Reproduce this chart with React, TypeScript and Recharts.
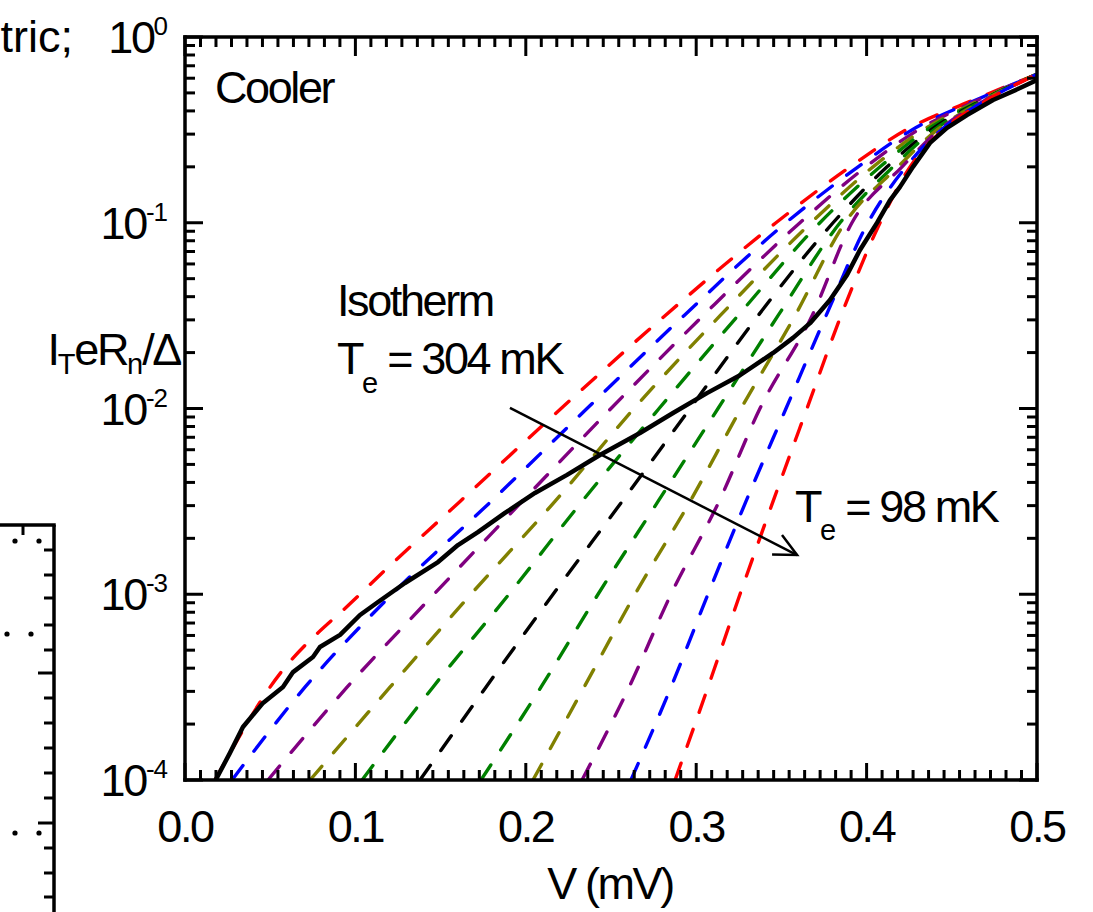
import React from "react";
import { LineChart, Line, XAxis, YAxis, ReferenceLine } from "recharts";

// current levels (I_T e R_n / Δ) shared by the dashed theory curves
const LEVELS = [1e-4, 3.16e-4, 1e-3, 3.16e-3, 1e-2, 3.16e-2, 0.1, 0.2, 0.316, 0.45, 0.63];

// voltage (mV) at which each dashed curve reaches the levels above
const V_RED_A = [0.0176, 0.0499, 0.1027, 0.1614, 0.2207, 0.2817, 0.3468, 0.3903, 0.4231, 0.4607, 0.5];
const V_BLUE_A = [0.0276, 0.0704, 0.1215, 0.1796, 0.2359, 0.2928, 0.3527, 0.395, 0.4266, 0.4624, 0.5];
const V_PURPLE_A = [0.0487, 0.0951, 0.1461, 0.1978, 0.25, 0.304, 0.3609, 0.3996, 0.4302, 0.4636, 0.5];
const V_OLIVE_A = [0.0734, 0.1203, 0.1678, 0.2171, 0.2635, 0.314, 0.3674, 0.4038, 0.4331, 0.4648, 0.5];
const V_GREEN_A = [0.1039, 0.1455, 0.1901, 0.233, 0.2782, 0.3245, 0.3726, 0.4079, 0.4354, 0.466, 0.5];
const V_BLACK = [0.1379, 0.1766, 0.216, 0.2565, 0.2964, 0.3363, 0.3803, 0.412, 0.4378, 0.4665, 0.5];
const V_GREEN_B = [0.1737, 0.2089, 0.2424, 0.2776, 0.3128, 0.348, 0.3844, 0.4155, 0.4396, 0.4671, 0.5];
const V_OLIVE_B = [0.2042, 0.2342, 0.2641, 0.2964, 0.3263, 0.358, 0.3873, 0.4184, 0.4413, 0.4677, 0.5];
const V_PURPLE_B = [0.233, 0.2606, 0.2852, 0.3134, 0.3374, 0.368, 0.3914, 0.4208, 0.4425, 0.4683, 0.5];
const V_BLUE_B = [0.2617, 0.2852, 0.3069, 0.3292, 0.3527, 0.3762, 0.4008, 0.4231, 0.4437, 0.4689, 0.5];
const V_RED_B = [0.2876, 0.3069, 0.3257, 0.3451, 0.365, 0.385, 0.4079, 0.4255, 0.4448, 0.4695, 0.5];

// measured curve (solid black)
const MEAS_V = [
  0.018, 0.0264, 0.034, 0.0458, 0.0575, 0.0634, 0.0751, 0.0792, 0.091, 0.1027, 0.1133, 0.1291,
  0.1485, 0.1602, 0.1719, 0.1878, 0.2054, 0.2242, 0.2435, 0.267, 0.2864, 0.3063, 0.3257, 0.3451,
  0.3568, 0.3668, 0.3785, 0.3885, 0.3961, 0.4061, 0.4137, 0.4196, 0.4272, 0.4372, 0.4472, 0.4589,
  0.4742, 0.49, 0.5,
];
const MEAS_I = [
  1.0e-4, 1.4e-4, 1.93e-4, 2.6e-4, 3.17e-4, 3.81e-4, 4.59e-4, 5.2e-4, 6.04e-4, 7.73e-4, 9.08e-4, 1.15e-3,
  1.49e-3, 1.84e-3, 2.16e-3, 2.74e-3, 3.51e-3, 4.39e-3, 5.62e-3, 7.38e-3, 9.46e-3, 1.21e-2, 1.51e-2, 1.99e-2,
  2.4e-2, 2.88e-2, 3.84e-2, 5.24e-2, 7.13e-2, 9.98e-2, 0.132, 0.156, 0.2, 0.269, 0.324, 0.38,
  0.458, 0.531, 0.587,
];

const CURVES = [
  { name: "r1", v: V_RED_A, color: "#ff0000" },
  { name: "b1", v: V_BLUE_A, color: "#0000ff" },
  { name: "p1", v: V_PURPLE_A, color: "#800080" },
  { name: "o1", v: V_OLIVE_A, color: "#808000" },
  { name: "g1", v: V_GREEN_A, color: "#008000" },
  { name: "k", v: V_BLACK, color: "#000000" },
  { name: "g2", v: V_GREEN_B, color: "#008000" },
  { name: "o2", v: V_OLIVE_B, color: "#808000" },
  { name: "p2", v: V_PURPLE_B, color: "#800080" },
  { name: "b2", v: V_BLUE_B, color: "#0000ff" },
  { name: "r2", v: V_RED_B, color: "#ff0000" },
];

// arrow from the isotherm label towards the cold curve
const ARROW_FROM = { v: 0.1907, i: 1.007e-2 };
const ARROW_TO = { v: 0.3592, i: 1.626e-3 };

const X_TICKS = Array.from({ length: 56 }, (_, k) => k / 110);
const Y_TICKS: number[] = [];
[1e-4, 1e-3, 1e-2, 1e-1].forEach((d) => {
  for (let m = 1; m <= 9; m++) Y_TICKS.push(m * d);
});
Y_TICKS.push(1);

const FONT = "'Liberation Sans', Arial, Helvetica, sans-serif";
const FS = 45;
const LS = -2.4;

const isMajorX = (v: number) => Math.round(v * 110) % 11 === 0;
const isDecade = (v: number) => {
  const l = Math.log10(v);
  return Math.abs(l - Math.round(l)) < 1e-6;
};

const BottomTick = (props: any) => {
  const { x, y, payload } = props;
  const major = isMajorX(payload.value);
  return (
    <g>
      <line x1={x} y1={y} x2={x} y2={y - (major ? 17 : 10)} stroke="#000" strokeWidth={3} />
      {major && (
        <text x={x} y={y + 62} textAnchor="middle" fontFamily={FONT} fontSize={FS} letterSpacing={LS} fill="#000">
          {payload.value.toFixed(1)}
        </text>
      )}
    </g>
  );
};

const TopTick = (props: any) => {
  const { x, y, payload } = props;
  const major = isMajorX(payload.value);
  return <line x1={x} y1={y} x2={x} y2={y + (major ? 19 : 10)} stroke="#000" strokeWidth={3} />;
};

const LeftTick = (props: any) => {
  const { x, y, payload } = props;
  const major = isDecade(payload.value);
  const exp = Math.round(Math.log10(payload.value));
  return (
    <g>
      <line x1={x} y1={y} x2={x + (major ? 18 : 10)} y2={y} stroke="#000" strokeWidth={3} />
      {major && (
        <text x={x - 18} y={y + 16} textAnchor="end" fontFamily={FONT} fontSize={FS} letterSpacing={LS} fill="#000">
          10
          <tspan dy={-18} fontSize={26} letterSpacing={-1}>
            {exp === 0 ? "0" : `-${-exp}`}
          </tspan>
        </text>
      )}
    </g>
  );
};

const RightTick = (props: any) => {
  const { x, y, payload } = props;
  const major = isDecade(payload.value);
  return <line x1={x} y1={y} x2={x - (major ? 18 : 10)} y2={y} stroke="#000" strokeWidth={3} />;
};

const ArrowShape = (props: any) => {
  const { x1, y1, x2, y2 } = props;
  const ang = Math.atan2(y2 - y1, x2 - x1);
  const L = 25;
  const a = 0.45;
  const p1 = `${x2 - L * Math.cos(ang - a)},${y2 - L * Math.sin(ang - a)}`;
  const p2 = `${x2 - L * Math.cos(ang + a)},${y2 - L * Math.sin(ang + a)}`;
  return (
    <g>
      <line x1={x1} y1={y1} x2={x2} y2={y2} stroke="#000" strokeWidth={2.5} />
      <polyline points={`${p1} ${x2},${y2} ${p2}`} fill="none" stroke="#000" strokeWidth={2.5} />
    </g>
  );
};

const axisLine = { stroke: "#000", strokeWidth: 3.5, strokeLinecap: "square" as const };

export default function App() {
  const curveData = CURVES.map((c) => ({
    ...c,
    data: c.v.map((v, k) => ({ v, i: LEVELS[k] })),
  }));
  const measData = MEAS_V.map((v, k) => ({ v, i: MEAS_I[k] }));

  const textProps = { fontFamily: FONT, fontSize: FS, letterSpacing: LS, fill: "#000" };
  const subSize = 29;

  return (
    <div style={{ position: "absolute", left: 0, top: 0, width: 1093, height: 912, background: "#fff" }}>
      <LineChart width={1093} height={912} margin={{ top: 36, right: 55, bottom: 131, left: 184 }}>
        <XAxis
          dataKey="v"
          type="number"
          domain={[0, 0.5]}
          ticks={X_TICKS}
          interval={0}
          height={1}
          tickSize={0}
          tickMargin={0}
          tick={<BottomTick />}
          axisLine={axisLine}
          allowDataOverflow
        />
        <XAxis
          xAxisId="top"
          orientation="top"
          dataKey="v"
          type="number"
          domain={[0, 0.5]}
          ticks={X_TICKS}
          interval={0}
          height={1}
          tickSize={0}
          tickMargin={0}
          tick={<TopTick />}
          axisLine={axisLine}
          allowDataOverflow
        />
        <YAxis
          type="number"
          scale="log"
          domain={[1e-4, 1]}
          ticks={Y_TICKS}
          interval={0}
          width={1}
          tickSize={0}
          tickMargin={0}
          tick={<LeftTick />}
          axisLine={axisLine}
          allowDataOverflow
        />
        <YAxis
          yAxisId="right"
          orientation="right"
          type="number"
          scale="log"
          domain={[1e-4, 1]}
          ticks={Y_TICKS}
          interval={0}
          width={1}
          tickSize={0}
          tickMargin={0}
          tick={<RightTick />}
          axisLine={axisLine}
          allowDataOverflow
        />
        {curveData.map((c) => (
          <Line
            key={c.name}
            data={c.data}
            dataKey="i"
            type="monotone"
            stroke={c.color}
            strokeWidth={3.4}
            strokeDasharray="18 18"
            strokeLinecap="round"
            dot={false}
            isAnimationActive={false}
          />
        ))}
        <Line
          data={measData}
          dataKey="i"
          type="linear"
          stroke="#000"
          strokeWidth={4.5}
          strokeLinejoin="round"
          dot={false}
          isAnimationActive={false}
        />
        <ReferenceLine
          segment={[
            { x: ARROW_FROM.v, y: ARROW_FROM.i },
            { x: ARROW_TO.v, y: ARROW_TO.i },
          ]}
          shape={<ArrowShape />}
          ifOverflow="visible"
        />
      </LineChart>

      <svg
        width={1093}
        height={912}
        style={{ position: "absolute", left: 0, top: 0, pointerEvents: "none" }}
      >
        <text x={73} y={52} textAnchor="end" {...textProps} letterSpacing={0}>
          tric;
        </text>
        <text x={215} y={103} {...textProps}>
          Cooler
        </text>
        <text x={337} y={316} {...textProps}>
          Isotherm
        </text>
        <text x={337} y={374} {...textProps}>
          T
          <tspan dy={19} fontSize={subSize} letterSpacing={-1}>
            e
          </tspan>
          <tspan dy={-19}> = 304 mK</tspan>
        </text>
        <text x={795} y={522} {...textProps}>
          T
          <tspan dy={18} fontSize={subSize} letterSpacing={-1}>
            e
          </tspan>
          <tspan dy={-18}> = 98 mK</tspan>
        </text>
        <text x={180} y={365} textAnchor="end" {...textProps}>
          I
          <tspan dy={9} fontSize={subSize} letterSpacing={-1}>
            T
          </tspan>
          <tspan dy={-9}>eR</tspan>
          <tspan dy={9} fontSize={subSize} letterSpacing={-1}>
            n
          </tspan>
          <tspan dy={-9}>/Δ</tspan>
        </text>
        <text x={610} y={899} textAnchor="middle" {...textProps}>
          V (mV)
        </text>

        {/* neighbouring panel, cut off at the left edge */}
        <line x1={54} y1={525} x2={54} y2={912} stroke="#000" strokeWidth={3.5} />
        <line x1={0} y1={525} x2={54} y2={525} stroke="#000" strokeWidth={3.5} strokeLinecap="square" />
        <line x1={23} y1={525} x2={23} y2={535} stroke="#000" strokeWidth={3} />
        {[550, 575, 598, 625, 650, 673, 698, 723, 748, 773, 798, 823, 848, 873, 897].map((ty) => (
          <line
            key={ty}
            x1={54}
            y1={ty}
            x2={ty === 673 || ty === 823 ? 38 : 44}
            y2={ty}
            stroke="#000"
            strokeWidth={3}
          />
        ))}
        {[
          [15, 541],
          [39, 541],
          [7, 634],
          [31, 634],
          [15, 833],
          [39, 833],
        ].map(([cx, cy]) => (
          <circle key={`${cx}-${cy}`} cx={cx} cy={cy} r={2.6} fill="#000" />
        ))}
      </svg>
    </div>
  );
}
